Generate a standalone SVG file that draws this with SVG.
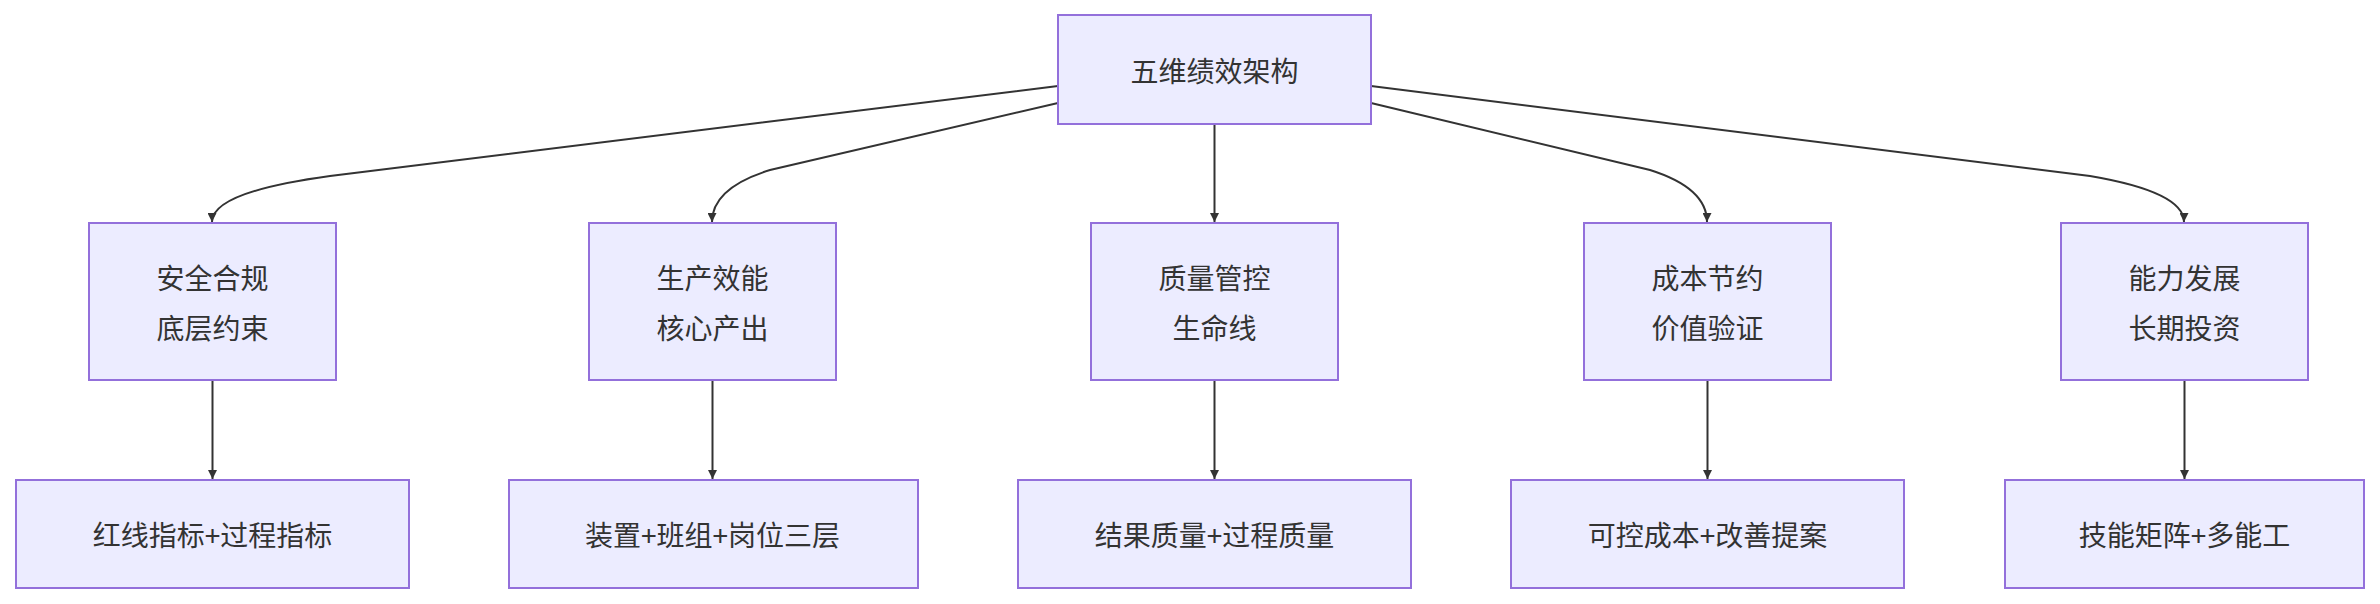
<svg xmlns="http://www.w3.org/2000/svg" width="2380" height="604" viewBox="0 0 2380 604">
<style>
.n rect{fill:#ececff;stroke:#9370db;stroke-width:2}
.n text{font-family:"Noto Sans CJK SC","Liberation Sans",sans-serif;font-size:28px;fill:#333;text-anchor:middle;dominant-baseline:central}
.e path{fill:none;stroke:#333;stroke-width:2;marker-end:url(#a)}
</style>
<defs><marker id="a" viewBox="0 0 10 10" refX="10" refY="5" markerWidth="9" markerHeight="9" markerUnits="userSpaceOnUse" orient="auto"><path d="M0,0L10,5L0,10z" fill="#333"/></marker>
</defs>
<rect width="2380" height="604" fill="#fff"/>
<g class="e">
<path d="M1058,86 L330,176 Q212,192 212,222"/>
<path d="M1058,103 L770,170 Q712,188 712,222"/>
<path d="M1214.5,124 L1214.5,222"/>
<path d="M1371,103 L1650,170 Q1707,188 1707,222"/>
<path d="M1371,86 L2090,176 Q2184,192 2184,222"/>
<path d="M212.5,380 L212.5,479"/>
<path d="M712.5,380 L712.5,479"/>
<path d="M1214.5,380 L1214.5,479"/>
<path d="M1707.5,380 L1707.5,479"/>
<path d="M2184.5,380 L2184.5,479"/>
</g>
<g id="root" class="n"><rect x="1058" y="15" width="313" height="109"/><text x="1214.5" y="69.5">五维绩效架构</text></g>
<g id="n1" class="n"><rect x="89" y="223" width="247" height="157"/><text x="212.5" y="277">安全合规</text><text x="212.5" y="327">底层约束</text></g>
<g id="n2" class="n"><rect x="589" y="223" width="247" height="157"/><text x="712.5" y="277">生产效能</text><text x="712.5" y="327">核心产出</text></g>
<g id="n3" class="n"><rect x="1091" y="223" width="247" height="157"/><text x="1214.5" y="277">质量管控</text><text x="1214.5" y="327">生命线</text></g>
<g id="n4" class="n"><rect x="1584" y="223" width="247" height="157"/><text x="1707.5" y="277">成本节约</text><text x="1707.5" y="327">价值验证</text></g>
<g id="n5" class="n"><rect x="2061" y="223" width="247" height="157"/><text x="2184.5" y="277">能力发展</text><text x="2184.5" y="327">长期投资</text></g>
<g id="m1" class="n"><rect x="16" y="480" width="393" height="108"/><text x="212.5" y="534">红线指标+过程指标</text></g>
<g id="m2" class="n"><rect x="509" y="480" width="409" height="108"/><text x="712.5" y="534">装置+班组+岗位三层</text></g>
<g id="m3" class="n"><rect x="1018" y="480" width="393" height="108"/><text x="1214.5" y="534">结果质量+过程质量</text></g>
<g id="m4" class="n"><rect x="1511" y="480" width="393" height="108"/><text x="1707.5" y="534">可控成本+改善提案</text></g>
<g id="m5" class="n"><rect x="2005" y="480" width="359" height="108"/><text x="2184.5" y="534">技能矩阵+多能工</text></g>
</svg>
